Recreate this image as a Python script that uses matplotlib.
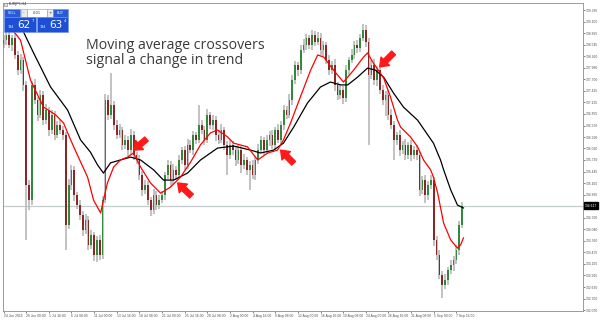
import matplotlib.pyplot as plt
import numpy as np
from matplotlib.patches import Rectangle

# closing prices, one candle per bar
closes = [
    138.65, 138.78, 138.53, 138.70, 138.29, 137.92, 138.17, 137.56, 135.12, 134.75,
    137.56, 137.19, 136.83, 137.31, 136.70, 136.95, 136.46, 136.83, 136.34, 136.58,
    136.46, 136.34, 134.14, 135.12, 135.49, 134.88, 134.63, 134.39, 134.02, 134.27,
    133.66, 133.90, 133.41, 133.78, 133.41, 134.75, 137.19, 136.83, 137.07, 136.58,
    136.34, 136.46, 136.09, 136.22, 135.97, 136.34, 135.85, 135.73, 135.36, 135.00,
    135.12, 134.75, 134.51, 134.88, 134.63, 134.75, 134.88, 135.36, 135.61, 135.24,
    135.49, 135.36, 135.73, 135.97, 135.61, 136.09, 135.97, 136.34, 136.22, 136.58,
    136.46, 136.22, 136.83, 136.58, 136.70, 136.34, 136.22, 136.46, 136.09, 135.85,
    136.09, 135.97, 135.73, 135.97, 135.61, 135.73, 135.49, 135.61, 135.36, 135.73,
    135.97, 136.22, 135.97, 136.22, 136.34, 136.09, 136.46, 136.22, 136.58, 136.95,
    136.83, 137.19, 137.68, 138.05, 137.92, 138.41, 138.53, 138.70, 138.53, 138.78,
    138.61, 138.70, 138.41, 138.53, 138.17, 137.92, 138.05, 137.56, 137.31, 137.44,
    137.24, 137.92, 138.17, 138.29, 138.53, 138.46, 138.70, 138.90, 138.61, 137.80,
    138.05, 137.68, 137.92, 137.44, 137.19, 137.31, 136.83, 136.58, 136.22, 136.34,
    135.97, 136.09, 135.85, 136.09, 135.85, 135.97, 135.85, 135.00, 135.24, 134.88,
    135.12, 135.24, 133.78, 133.41, 132.93, 132.68, 132.80, 133.05, 133.17, 133.29,
    133.54, 134.14, 134.62,
]
first_open = 138.55

upper_wick = [
    0.12, 0.10, 0.15, 0.08, 0.12, 0.10, 0.15, 0.08, 0.10, 0.12,
    0.10, 0.15, 0.08, 0.12, 0.10, 0.14, 0.08, 0.12, 0.10, 0.09,
    0.12, 0.10, 0.08, 0.15, 0.12, 0.10, 0.08, 0.12, 0.10, 0.15,
    0.10, 0.12, 0.08, 0.10, 0.12, 0.10, 0.15, 0.12, 0.78, 0.10,
    0.12, 0.15, 0.08, 0.12, 0.10, 0.14, 0.10, 0.08, 0.12, 0.10,
    0.12, 0.10, 0.08, 0.15, 0.10, 0.12, 0.10, 0.08, 0.12, 0.10,
    0.15, 0.10, 0.12, 0.08, 0.10, 0.15, 0.12, 0.10, 0.08, 0.49,
    0.12, 0.10, 0.15, 0.08, 0.12, 0.10, 0.12, 0.15, 0.08, 0.10,
    0.12, 0.10, 0.08, 0.12, 0.10, 0.15, 0.08, 0.10, 0.12, 0.10,
    0.15, 0.10, 0.08, 0.12, 0.10, 0.12, 0.08, 0.15, 0.10, 0.12,
    0.10, 0.15, 0.12, 0.10, 0.08, 0.12, 0.15, 0.10, 0.08, 0.12,
    0.10, 0.15, 0.12, 0.10, 0.08, 0.12, 0.10, 0.15, 0.08, 0.12,
    0.10, 0.12, 0.08, 0.15, 0.10, 0.12, 0.10, 0.15, 0.12, 0.10,
    0.12, 0.15, 0.10, 0.08, 0.12, 0.10, 0.12, 0.15, 0.10, 0.08,
    0.12, 0.10, 0.15, 0.08, 0.12, 0.10, 0.12, 0.08, 0.10, 0.12,
    0.10, 0.12, 0.08, 0.10, 0.12, 0.10, 0.15, 0.08, 0.12, 0.10,
    0.12, 0.10, 0.08,
]
lower_wick = [
    0.10, 0.12, 0.08, 0.15, 0.10, 0.12, 0.10, 0.15, 1.34, 0.24,
    0.12, 0.10, 0.15, 0.08, 0.12, 0.10, 0.14, 0.10, 0.12, 0.08,
    0.10, 0.12, 0.60, 0.10, 0.12, 0.15, 0.10, 0.12, 0.15, 0.10,
    0.12, 0.10, 0.15, 0.17, 0.12, 0.10, 0.08, 0.12, 0.10, 0.12,
    0.10, 0.08, 0.12, 0.10, 0.15, 0.10, 0.12, 0.10, 0.12, 0.15,
    0.10, 0.12, 0.15, 0.10, 0.12, 0.10, 0.08, 0.12, 0.10, 0.15,
    0.10, 0.12, 0.08, 0.10, 0.12, 0.10, 0.08, 0.12, 0.10, 0.08,
    0.10, 0.12, 0.08, 0.10, 0.12, 0.15, 0.10, 0.08, 0.12, 0.49,
    0.10, 0.12, 0.15, 0.10, 0.20, 0.10, 0.12, 0.49, 0.10, 0.12,
    0.10, 0.08, 0.12, 0.10, 0.15, 0.10, 0.12, 0.08, 0.10, 0.12,
    0.10, 0.08, 0.12, 0.10, 0.15, 0.10, 0.08, 0.12, 0.10, 0.12,
    0.10, 0.08, 0.12, 0.15, 0.10, 0.12, 0.10, 0.15, 0.12, 0.10,
    0.15, 0.10, 0.12, 0.08, 0.10, 0.12, 0.10, 0.08, 0.12, 1.71,
    0.10, 0.12, 0.15, 0.10, 0.12, 0.40, 0.12, 0.10, 0.50, 0.12,
    0.15, 0.10, 0.12, 0.10, 0.15, 0.10, 0.12, 0.15, 0.10, 0.20,
    0.12, 0.10, 0.15, 0.12, 0.10, 0.31, 0.10, 0.12, 0.10, 0.15,
    0.10, 0.12, 0.08,
]

# moving averages, read as (bar, price) points
red_ma_bar = [0.7, 3.2, 6.0, 9.5, 14.1, 18.4, 21.2, 23.7, 26.1, 29.7, 31.8, 34.3,
              35.3, 36.7, 38.9, 41.3, 43.8, 45.9, 48.4, 51.9, 55.5, 59.0, 62.5,
              66.1, 69.6, 73.1, 75.6, 79.2, 81.3, 86.2, 89.8, 93.3, 96.8, 98.9,
              101.4, 104.9, 108.5, 111.0, 113.1, 116.6, 120.1, 123.7, 127.2,
              128.6, 130.7, 134.3, 136.7, 139.2, 140.3, 143.8, 146.3, 148.4,
              150.9, 151.9, 153.4, 155.5, 158.0, 160.4, 161.5, 162.5]
red_ma_val = [139.09, 138.90, 138.65, 137.68, 137.02, 136.83, 136.63, 136.22,
              135.85, 135.31, 134.75, 134.44, 134.75, 135.17, 135.56, 135.73,
              135.80, 135.90, 135.56, 135.17, 134.92, 135.07, 135.31, 135.68,
              136.10, 136.39, 136.46, 136.29, 136.14, 136.05, 135.73, 135.90,
              135.97, 136.22, 136.63, 137.27, 137.92, 138.29, 138.24, 137.92,
              137.63, 137.92, 138.24, 138.34, 138.09, 137.73, 137.27, 136.70,
              136.53, 136.29, 136.05, 135.73, 135.49, 135.31, 134.92, 134.19,
              133.78, 133.58, 133.66, 133.83]

black_ma_bar = [4.2, 6.7, 10.6, 16.6, 22.6, 27.2, 30.7, 33.2, 35.3, 37.8, 41.3,
                44.9, 48.4, 53.0, 56.5, 60.1, 65.0, 69.6, 75.6, 81.3, 87.3, 90.8,
                95.4, 98.9, 102.5, 107.4, 112.0, 115.5, 119.1, 121.6, 125.1, 128.6,
                131.4, 134.3, 137.8, 141.3, 146.3, 151.9, 154.4, 155.5, 158.0,
                160.4, 162.5]
black_ma_val = [139.14, 138.90, 138.34, 137.51, 136.95, 136.22, 135.92, 135.61,
                135.41, 135.66, 135.73, 135.80, 135.73, 135.49, 135.24, 135.24,
                135.41, 135.73, 136.02, 136.07, 135.97, 135.90, 135.97, 136.14,
                136.53, 137.12, 137.51, 137.63, 137.56, 137.56, 137.75, 137.97,
                137.92, 137.75, 137.36, 137.02, 136.70, 136.14, 135.73, 135.49,
                135.00, 134.63, 134.56]

# crossover arrows: (tail bar, tail price, head bar, head price)
arrows = [
    (50.5, 136.24, 45.9, 135.97),
    (66.4, 134.85, 61.5, 135.17),
    (102.5, 135.65, 97.9, 135.97),
    (137.8, 138.34, 132.9, 138.00),
]

price_ticks = [139.385, 139.105, 138.825, 138.545, 138.260, 137.980, 137.700,
               137.415, 137.135, 136.855, 136.570, 136.290, 136.010, 135.730,
               135.445, 135.165, 134.885, 134.320, 134.040, 133.760, 133.475,
               133.195, 132.915, 132.630, 132.350, 132.070]
time_labels = ["24 Jun 2016", "29 Jun 00:00", "1 Jul 16:00", "6 Jul 08:00",
               "11 Jul 00:00", "13 Jul 16:00", "18 Jul 08:00", "21 Jul 00:00",
               "25 Jul 16:00", "28 Jul 08:00", "2 Aug 00:00", "4 Aug 16:00",
               "9 Aug 08:00", "12 Aug 00:00", "16 Aug 16:00", "19 Aug 08:00",
               "24 Aug 00:00", "26 Aug 16:00", "31 Aug 08:00", "5 Sep 00:00",
               "7 Sep 16:00"]
bars_per_label = 8
last_price_label = "134.617"

W, H = 600, 323
fig = plt.figure(figsize=(W / 100, H / 100), dpi=100)
ax = fig.add_axes([3 / W, 1 - 311 / H, 580 / W, 308 / H])

bars = np.arange(len(closes))
c = np.array(closes)
o = np.array([first_open] + closes[:-1])
hi = np.maximum(o, c) + np.array(upper_wick)
lo = np.minimum(o, c) - np.array(lower_wick)

ax.axhline(c[-1], color="#c5cccc", lw=0.9, zorder=1)
ax.vlines(bars, lo, hi, color="#b8b8b8", lw=1.2, zorder=2)
body_col = np.where(c >= o, "#2f8a3c", "#8a2626")
body_h = np.maximum(np.abs(c - o), 0.02)
ax.bar(bars, body_h, bottom=np.minimum(o, c), width=0.6, color=body_col,
       lw=0, zorder=3)

ax.plot(black_ma_bar, black_ma_val, color="black", lw=0.9, zorder=4)
ax.plot(red_ma_bar, red_ma_val, color="#ff0000", lw=0.9, zorder=5)

for tx, ty, hx, hy in arrows:
    ax.annotate("", xy=(hx, hy), xytext=(tx, ty),
                arrowprops=dict(arrowstyle="simple,head_length=0.6,head_width=0.9,tail_width=0.4",
                                color="#ff1a1a", mutation_scale=9.5,
                                shrinkA=0, shrinkB=0), zorder=6)

ax.set_xlim(-0.2, -0.2 + 580 / 2.83)
ax.set_ylim(132.048, 139.557)

ax.yaxis.tick_right()
ax.set_yticks(price_ticks, [f"{v:.3f}" for v in price_ticks])
ax.set_xticks(bars[::bars_per_label], time_labels, ha="left")
ax.tick_params(axis="both", labelsize=2.4, colors="#505050", length=1.5,
               width=0.5, pad=0.8)
for t in ax.get_xticklabels() + ax.get_yticklabels():
    t.set_family("Liberation Sans")
for s in ax.spines.values():
    s.set_color("#8c8c8c")
    s.set_linewidth(0.6)

ax.annotate(last_price_label, xy=(1, c[-1]), xycoords=("axes fraction", "data"),
            xytext=(1.4, 0), textcoords="offset points", ha="left", va="center",
            fontsize=2.4, color="white", family="Liberation Sans",
            bbox=dict(boxstyle="square,pad=0.35", fc="black", ec="black"))

fig.text(86 / W, 1 - 49 / H, "Moving average crossovers", fontsize=10.2,
         family="Open Sans", color="#3a3a3a", va="baseline")
fig.text(86 / W, 1 - 64 / H, "signal a change in trend", fontsize=10.2,
         family="Open Sans", color="#3a3a3a", va="baseline")


# one-click trading panel in the top left corner
def box(x0, y0, x1, y1, fc, ec=None):
    fig.add_artist(Rectangle((x0 / W, 1 - y1 / H), (x1 - x0) / W, (y1 - y0) / H,
                             transform=fig.transFigure, fc=fc,
                             ec=ec if ec else fc, lw=0.4, zorder=10))


def label(x, y, s, size, col="white", ha="center"):
    fig.text(x / W, 1 - y / H, s, fontsize=size, color=col, ha=ha, va="center",
             zorder=11)


label(9, 4.5, "EURJPY,H4", 2.5, col="#333333", ha="left")
box(4, 3, 7, 6, "#e0e0e0", "#808080")
box(4, 9, 20, 16.5, "#2a5bd7", "#6f8fe6")
label(12, 12.8, "SELL", 2.5)
box(21, 9, 27, 16.5, "#ececec", "#9a9a9a")
label(24, 12.8, "-", 3, col="#333333")
box(27, 9, 47, 16.5, "white", "#9a9a9a")
label(37, 12.8, "0.01", 2.6, col="#333333")
box(47, 9, 53, 16.5, "#ececec", "#9a9a9a")
label(50, 12.8, "+", 3, col="#333333")
box(53, 9, 68, 16.5, "#2a5bd7", "#6f8fe6")
label(60.5, 12.8, "BUY", 2.5)
box(4, 17, 35.5, 32, "#1c4fd6", "#6f8fe6")
box(36.5, 17, 68, 32, "#1c4fd6", "#6f8fe6")
label(11, 27.5, "134", 2.4)
label(17, 24.5, "62", 7.5, ha="left")
label(31.5, 20.5, "7", 2.8, ha="left")
label(43, 27.5, "134", 2.4)
label(49, 24.5, "63", 7.5, ha="left")
label(63.5, 20.5, "4", 2.8, ha="left")

fig.savefig("out.png", dpi=100)
